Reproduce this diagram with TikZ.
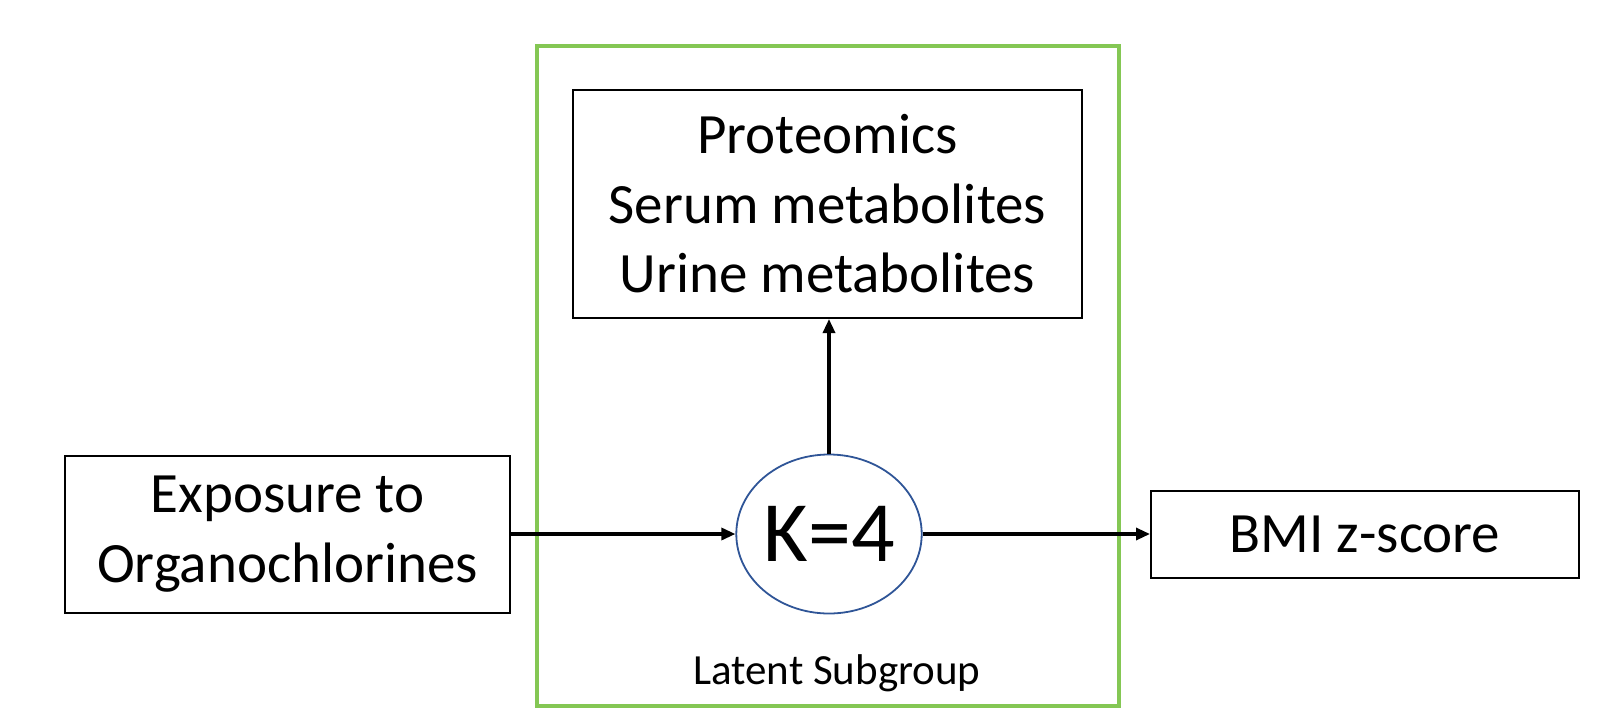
\documentclass[tikz,border=0pt]{standalone}
\usepackage{fontspec}
\setmainfont{Carlito}
\usetikzlibrary{shapes.geometric,arrows.meta}
\definecolor{groupgreen}{RGB}{132,199,84}
\definecolor{ellblue}{RGB}{47,85,151}
\tikzset{
  box/.style={draw=black, line width=2pt, rectangle, inner sep=0pt, align=center,
    font=\fontsize{57}{69.5}\selectfont},
  conn/.style={line width=3.2pt, -{Triangle[length=14pt,width=12pt]}},
}
\begin{document}
\begin{tikzpicture}[x=1pt,y=-1pt]
\useasboundingbox (0,0) rectangle (1610,726);
\node[draw=groupgreen, line width=4.5pt, rectangle, minimum width=582pt, minimum height=660pt, inner sep=0pt] (grp) at (828,376) {};
\node[box, minimum width=509pt, minimum height=228pt] (omics) at (827.5,204) {Proteomics\\Serum metabolites\\Urine metabolites};
\node[ellipse, draw=ellblue, line width=1.8pt, minimum width=174pt, minimum height=159pt, inner sep=0pt,
  font=\fontsize{86}{98}\selectfont] (k) at (829,534) {K=4};
\node[box, minimum width=445pt, minimum height=157pt] (expo) at (287.5,534) {Exposure to\\Organochlorines};
\node[box, minimum width=428pt, minimum height=87pt] (bmi) at (1365,534) {BMI z-score};
\node[font=\fontsize{43}{50}\selectfont] (lat) at (837,673) {Latent Subgroup};
\draw[conn] (expo) -- (k);
\draw[conn] (k) -- (bmi);
\draw[conn] (k.north) -- (k.north |- omics.south);
\end{tikzpicture}
\end{document}
